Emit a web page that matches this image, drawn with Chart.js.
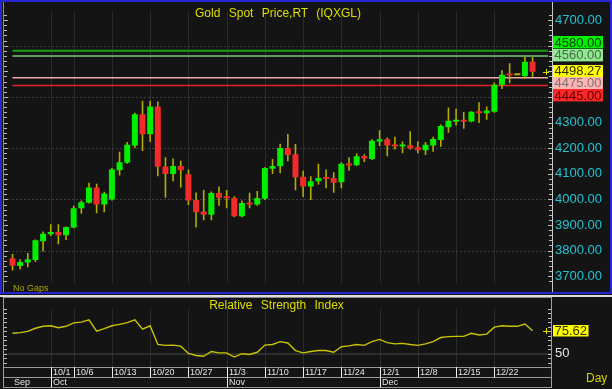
<!DOCTYPE html>
<html><head><meta charset="utf-8">
<script src="https://cdn.jsdelivr.net/npm/chart.js@4.4.1/dist/chart.umd.min.js"></script>
<style>
html,body{margin:0;padding:0;background:#141414;width:612px;height:389px;overflow:hidden;font-family:"Liberation Sans",Arial,sans-serif;}
canvas{position:absolute;left:0;}
#main{top:0;}
#rsi{top:297px;}
.ov{position:absolute;white-space:pre;pointer-events:none;}
#frame{position:absolute;left:0;top:0;width:612px;height:294px;box-sizing:border-box;border:2px solid #2626d4;pointer-events:none;}
#sep2{position:absolute;left:0;top:295px;width:612px;height:2px;background:#dcdcdc;}
#title{left:0;top:5px;width:556px;text-align:center;font-size:12px;line-height:16px;color:#dede00;word-spacing:5px;}
#rtitle{left:0;top:297px;width:553px;text-align:center;font-size:12px;line-height:16px;color:#dede00;word-spacing:5px;}
#gaps{left:13px;top:282px;font-size:9px;line-height:12px;color:#a8a800;}
#day{left:586px;top:371px;font-size:12px;line-height:14px;color:#d8d800;}
</style></head>
<body>
<canvas id="main" width="612" height="294"></canvas>
<canvas id="rsi" width="612" height="92"></canvas>
<div id="frame"></div>
<div id="sep2"></div>
<div class="ov" id="title">Gold Spot Price,RT (IQXGL)</div>
<div class="ov" id="rtitle">Relative Strength Index</div>
<div class="ov" id="gaps">No Gaps</div>
<div class="ov" id="day">Day</div>
<script>
// ---- data ----
const opens  = [3770,3740,3754,3763,3837,3864,3873,3860,3890,3965,3987,4046,3980,4000,4114,4143,4210,4332,4254,4363,4128,4099,4130,4098,3998,3953,3940,4025,4009,4005,3934,3985,3980,4002,4120,4129,4201,4176,4088,4050,4071,4084,4083,4067,4139,4133,4169,4158,4226,4235,4213,4206,4211,4204,4192,4210,4232,4282,4303,4310,4304,4343,4336,4342,4448,4489,4485,4481,4537];
const highs  = [3787,3766,3791,3843,3875,3903,3903,3894,3975,3996,4065,4061,4030,4123,4186,4224,4338,4385,4385,4382,4164,4160,4151,4117,4027,4037,4031,4050,4037,4012,3996,4026,4033,4125,4158,4217,4255,4216,4112,4090,4139,4117,4106,4145,4164,4179,4176,4235,4270,4242,4245,4226,4266,4226,4224,4245,4292,4359,4354,4341,4344,4379,4363,4456,4504,4531,4485,4556,4556];
const lows   = [3722,3726,3735,3756,3797,3857,3825,3841,3887,3944,3984,3946,3950,3996,4093,4139,4201,4189,4224,4090,4006,4071,4046,3978,3890,3919,3919,3975,3965,3931,3930,3965,3975,3998,4099,4102,4149,4036,4009,3998,4058,4043,4026,4043,4112,4130,4146,4154,4208,4168,4195,4180,4195,4180,4173,4186,4205,4260,4288,4276,4301,4298,4311,4338,4431,4453,4485,4471,4479];
const closes = [3741,3756,3766,3840,3866,3873,3860,3892,3965,3989,4046,3980,4023,4117,4145,4213,4332,4254,4363,4127,4099,4130,4114,3996,3950,3940,4025,4006,4004,3934,3986,3980,4005,4123,4130,4201,4173,4086,4050,4071,4083,4080,4065,4139,4132,4168,4160,4229,4235,4210,4206,4213,4199,4192,4213,4236,4286,4307,4310,4303,4342,4336,4347,4448,4487,4484,4485,4537,4498.27];
const rsiValues = [72.7,73.5,74.9,78.3,80.5,81.1,79,80.5,84.3,85.2,87.7,75.2,78,81.1,82.7,84.6,87.7,77.4,81.1,60.3,59.3,59.5,58.4,50.3,48,47.2,52.5,50.9,50.9,46.3,50,49.1,51.6,59.6,60.3,63.4,61.9,53.5,50.9,52.5,53.5,53.5,51.6,57.8,58.7,60.3,59.3,63.4,65.9,62.4,60.9,61.5,60.3,59.3,60.9,63.4,68,69,69.3,69.3,72.7,70.8,71.8,79.6,81.1,80.5,80.5,83,75.62];
const weekIdx    = [5,8,13,18,23,28,33,38,43,48,53,58,63];
const weekLabels = ['10/1','10/6','10/13','10/20','10/27','11/3','11/10','11/17','11/24','12/1','12/8','12/15','12/22'];
const monthIdx    = [0,5,28,48];
const monthLabels = ['Sep','Oct','Nov','Dec'];
const levelValues = [4580,4560,4475,4445];
const priceGrid   = [3800,4000,4200,4400,4600];
const hiddenPriceLabels = [4400,4500,4600];

// ---- styles ----
const GREEN='#00ee00', RED='#f22a2a', WICK='#b4ac00', CYAN='#22c4d4';
const levelStyle = {
  4580:{line:'#16a016', w:2,   bg:'#00f000', fg:'#0e3a0e'},
  4560:{line:'#7cc87c', w:1.5, bg:'#90e890', fg:'#4a6a4a'},
  4475:{line:'#f0a8a8', w:1.5, bg:'#ffb4b4', fg:'#767676'},
  4445:{line:'#e82222', w:1.5, bg:'#ff2626', fg:'#5a0000'}
};
Chart.defaults.font.family = "'Liberation Sans', Arial, sans-serif";
const idx = opens.map((_, i) => i);
const lastClose = closes[closes.length-1];
const lastRsi = rsiValues[rsiValues.length-1];

function drawBox(ctx, x, yc, h, text, bg, fg){
  ctx.font = "13px 'Liberation Sans', Arial, sans-serif";
  const w = ctx.measureText(text).width + 3;
  ctx.fillStyle = bg; ctx.fillRect(x, Math.round(yc - h/2), w, h);
  ctx.fillStyle = fg; ctx.textBaseline = 'middle'; ctx.textAlign = 'left';
  ctx.fillText(text, x + 1.5, yc + 0.5);
}
function plus(ctx, x, y){
  ctx.strokeStyle = '#dede00'; ctx.lineWidth = 1;
  ctx.beginPath(); ctx.moveTo(x-3, y+0.5); ctx.lineTo(x+3, y+0.5);
  ctx.moveTo(x+0.5, y-3); ctx.lineTo(x+0.5, y+3); ctx.stroke();
}

const mainDeco = {
  id:'mainDeco',
  beforeDatasetsDraw(chart){
    const {ctx, chartArea:a, scales:{x, y}} = chart;
    ctx.save();
    ctx.strokeStyle = '#2c2c2c'; ctx.lineWidth = 1;
    weekIdx.forEach(i => { const px = Math.round(x.getPixelForValue(i)) + 0.5;
      ctx.beginPath(); ctx.moveTo(px, a.top); ctx.lineTo(px, a.bottom); ctx.stroke(); });
    ctx.setLineDash([2,2]); ctx.strokeStyle = '#404040';
    priceGrid.forEach(v => { const py = Math.round(y.getPixelForValue(v)) + 0.5;
      ctx.beginPath(); ctx.moveTo(a.left, py); ctx.lineTo(a.right, py); ctx.stroke(); });
    ctx.setLineDash([]);
    levelValues.forEach(v => { const s = levelStyle[v]; const py = y.getPixelForValue(v);
      ctx.strokeStyle = s.line; ctx.lineWidth = s.w;
      ctx.beginPath(); ctx.moveTo(x.getPixelForValue(0), py); ctx.lineTo(a.right - 4, py); ctx.stroke(); });
    ctx.restore();
  },
  afterDraw(chart){
    const {ctx, chartArea:a, scales:{y}} = chart;
    ctx.save();
    ctx.strokeStyle = '#c8c8c8'; ctx.lineWidth = 1;
    ctx.beginPath(); ctx.moveTo(a.right + 0.5, 2); ctx.lineTo(a.right + 0.5, 292); ctx.stroke();
    ctx.strokeStyle = '#909090';
    ctx.beginPath(); ctx.moveTo(a.left - 0.5, 2); ctx.lineTo(a.left - 0.5, 292); ctx.stroke();
    ctx.strokeStyle = '#bdbdbd';
    for (let v = 3680; v <= 4730; v += 20) {
      const py = Math.round(y.getPixelForValue(v)) + 0.5; const big = v % 100 === 0;
      ctx.beginPath(); ctx.moveTo(a.left, py); ctx.lineTo(a.left + (big ? 4 : 3), py);
      ctx.moveTo(a.right - (big ? 4 : 3), py); ctx.lineTo(a.right, py); ctx.stroke();
    }
    // label boxes, stacked around the current price
    const items = [
      {v:4580, ...levelStyle[4580]}, {v:4560, ...levelStyle[4560]},
      {v:lastClose, bg:'#ffff00', fg:'#303000'},
      {v:4475, ...levelStyle[4475]}, {v:4445, ...levelStyle[4445]}
    ];
    const H = 12.4, cur = 2;
    items.forEach(it => it.yc = y.getPixelForValue(it.v) - 1);
    for (let k = cur - 1; k >= 0; k--) items[k].yc = Math.min(items[k].yc, items[k+1].yc - H);
    for (let k = cur + 1; k < items.length; k++) items[k].yc = Math.max(items[k].yc, items[k-1].yc + H);
    items.forEach(it => drawBox(ctx, a.right + 1, it.yc, H, it.v.toFixed(2), it.bg, it.fg));
    plus(ctx, a.right - 6, Math.round(y.getPixelForValue(lastClose)));
    ctx.restore();
  }
};

new Chart(document.getElementById('main'), {
  type:'bar',
  data:{ datasets:[
    { label:'range', data: idx.map(i => ({x:i, y:[lows[i], highs[i]]})), backgroundColor: WICK,
      grouped:false, barThickness:1.6, maxBarThickness:1.6, minBarLength:1, borderWidth:0, inflateAmount:0, order:2 },
    { label:'body', data: idx.map(i => ({x:i, y:[opens[i], closes[i]]})),
      backgroundColor: c => { const i = c.dataIndex; if (i === undefined) return GREEN;
        return closes[i] > opens[i] ? GREEN : (closes[i] < opens[i] ? RED : WICK); },
      grouped:false, barThickness:6, maxBarThickness:6, minBarLength:2, borderWidth:0, inflateAmount:0, order:1 }
  ]},
  options:{
    responsive:false, animation:false, devicePixelRatio:1,
    layout:{padding:{left:4, right:0, top:5, bottom:4}},
    plugins:{legend:{display:false}, tooltip:{enabled:false}},
    scales:{
      x:{type:'linear', min:-1.11, max:70.54, offset:false, grid:{display:false, offset:false},
         ticks:{display:false}, border:{display:false}, afterFit(s){ s.height = 0; }},
      y:{type:'linear', position:'right', min:3672.8, max:4736.2, beginAtZero:false,
         grid:{display:false, drawTicks:false}, border:{display:false},
         ticks:{stepSize:100, includeBounds:false, color:CYAN, padding:3, font:{size:13},
                callback: v => hiddenPriceLabels.includes(v) ? '' : v.toFixed(2)},
         afterFit(s){ s.width = 60; }}
    }
  },
  plugins:[mainDeco]
});

const rsiDeco = {
  id:'rsiDeco',
  beforeDatasetsDraw(chart){
    const {ctx, chartArea:a, scales:{x, y}} = chart;
    ctx.save();
    ctx.strokeStyle = '#2c2c2c'; ctx.lineWidth = 1;
    weekIdx.forEach(i => { const px = Math.round(x.getPixelForValue(i)) + 0.5;
      ctx.beginPath(); ctx.moveTo(px, a.top); ctx.lineTo(px, a.bottom); ctx.stroke(); });
    ctx.strokeStyle = '#383838'; ctx.lineWidth = 1.5;
    const p50 = Math.round(y.getPixelForValue(50));
    ctx.beginPath(); ctx.moveTo(a.left, p50); ctx.lineTo(a.right, p50); ctx.stroke();
    ctx.restore();
  },
  afterDraw(chart){
    const {ctx, chartArea:a, scales:{x, y}} = chart;
    ctx.save();
    ctx.lineWidth = 1;
    ctx.strokeStyle = '#8a8a8a';
    ctx.beginPath(); ctx.moveTo(a.left, 0.5); ctx.lineTo(a.right, 0.5); ctx.stroke();
    ctx.strokeStyle = '#a0a0a0';
    ctx.beginPath(); ctx.moveTo(a.left - 0.5, 0); ctx.lineTo(a.left - 0.5, 91);
    ctx.moveTo(a.right + 0.5, 0); ctx.lineTo(a.right + 0.5, 91); ctx.stroke();
    ctx.strokeStyle = '#bdbdbd';
    for (let v = 40; v <= 100; v += 5) {
      const py = Math.round(y.getPixelForValue(v)) + 0.5;
      ctx.beginPath(); ctx.moveTo(a.left, py); ctx.lineTo(a.left + 3, py);
      ctx.moveTo(a.right - 3, py); ctx.lineTo(a.right, py); ctx.stroke();
    }
    // date rows
    const b = a.bottom, mid = b + 10.5, bot = 90.5;
    ctx.strokeStyle = '#9a9a9a';
    [b + 0.5, mid, bot].forEach(yy => { ctx.beginPath(); ctx.moveTo(a.left - 0.5, yy); ctx.lineTo(a.right + 0.5, yy); ctx.stroke(); });
    ctx.font = "9px 'Liberation Sans', Arial, sans-serif"; ctx.textBaseline = 'middle'; ctx.textAlign = 'left';
    ctx.strokeStyle = '#eeeeee'; ctx.fillStyle = '#e4e4e4';
    weekIdx.forEach((i, k) => { const px = Math.round(x.getPixelForValue(i)) + 0.5;
      ctx.beginPath(); ctx.moveTo(px, b); ctx.lineTo(px, mid); ctx.stroke();
      ctx.fillText(weekLabels[k], px + 1.5, b + 6); });
    monthIdx.forEach((i, k) => { const px = Math.round(x.getPixelForValue(i)) + 0.5;
      if (i > 0) { ctx.beginPath(); ctx.moveTo(px, mid); ctx.lineTo(px, bot); ctx.stroke(); }
      ctx.fillText(monthLabels[k], px + 1.5, mid + 5.5); });
    const yr = y.getPixelForValue(lastRsi);
    drawBox(ctx, a.right + 2, yr, 11.5, lastRsi.toFixed(2), '#ffff00', '#303000');
    plus(ctx, a.right - 5, Math.round(yr));
    ctx.restore();
  }
};

new Chart(document.getElementById('rsi'), {
  type:'line',
  data:{ datasets:[{ label:'RSI', data: idx.map(i => ({x:i, y:rsiValues[i]})),
    borderColor:'#c8c400', borderWidth:1.4, pointRadius:0, tension:0, fill:false }]},
  options:{
    responsive:false, animation:false, devicePixelRatio:1,
    layout:{padding:{left:4, right:0, top:0, bottom:0}},
    plugins:{legend:{display:false}, tooltip:{enabled:false}},
    scales:{
      x:{type:'linear', min:-1.11, max:70.41, offset:false, grid:{display:false},
         ticks:{display:false}, border:{display:false}, afterFit(s){ s.height = 22; }},
      y:{type:'linear', position:'right', min:35.2, max:100, grid:{display:false, drawTicks:false}, border:{display:false},
         afterBuildTicks(s){ s.ticks = [{value:50}]; },
         ticks:{color:'#e8e8e8', padding:4, font:{size:13}, callback: v => String(v)},
         afterFit(s){ s.width = 61; }}
    }
  },
  plugins:[rsiDeco]
});
</script>
</body></html>
